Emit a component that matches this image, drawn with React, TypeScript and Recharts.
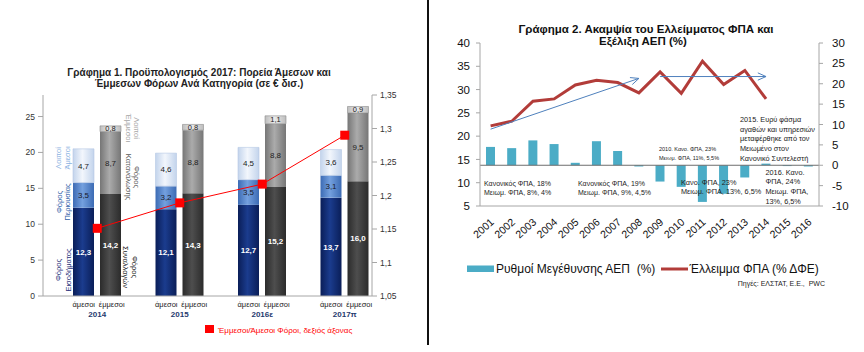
import React from "react";
import { ComposedChart, Bar, Line, XAxis, YAxis, LabelList, ReferenceLine } from "recharts";

const FONT = "'Liberation Sans', Arial, sans-serif";

// Γράφημα 1
const years = ["2014", "2015", "2016ε", "2017π"];
const incomeTax = [12.3, 12.1, 12.7, 13.7];
const propertyTax = [3.5, 3.2, 3.5, 3.1];
const otherDirect = [4.7, 4.6, 4.5, 3.6];
const transactionTax = [14.2, 14.3, 15.2, 16.0];
const consumptionTax = [8.7, 8.8, 8.8, 9.5];
const otherIndirect = [0.8, 0.8, 1.1, 0.9];
const indirectToDirect = [1.151, 1.189, 1.217, 1.29];
const leftTicks = [0, 5, 10, 15, 20, 25];
const ratioTicks = [1.05, 1.1, 1.15, 1.2, 1.25, 1.3, 1.35];

// Γράφημα 2
const gdpYears = ["2001", "2002", "2003", "2004", "2005", "2006", "2007", "2008",
  "2009", "2010", "2011", "2012", "2013", "2014", "2015", "2016"];
const gdpGrowth = [4.5, 4.2, 6.1, 5.2, 0.6, 5.9, 3.5, -0.3, -4.0, -5.3, -9.0, -7.0, -3.0, 0.4, -0.2, -0.3];
const vatGap = [22.2, 23.2, 27.5, 28.0, 31.0, 32.0, 31.5, 29.3, 33.8, 29.2, 36.1, 31.1, 34.1, 28.0, null, null];
const vatTicks = [5, 10, 15, 20, 25, 30, 35, 40];
const gdpTicks = [-10, -5, 0, 5, 10, 15, 20, 25, 30];
const arrowA = [{ x: "2001", y: 21.5 }, { x: "2008", y: 32.4 }];
const arrowB = [{ x: "2009", y: 32.8 }, { x: "2014", y: 32.8 }];

const taxData = years.map((y, i) => ({
  year: y,
  inc: incomeTax[i],
  prop: propertyTax[i],
  othDir: otherDirect[i],
  trans: transactionTax[i],
  cons: consumptionTax[i],
  othInd: otherIndirect[i],
  ratio: indirectToDirect[i],
}));

const vatData = gdpYears.map((y, i) => ({ year: y, gdp: gdpGrowth[i], gap: vatGap[i] }));

const comma = (v: any) => Number(v).toFixed(1).replace(".", ",");
const ratioFmt = (v: number) => String(+v.toFixed(2)).replace(".", ",");

const SquareDot = (p: any) => (
  <rect key={p.index} x={p.cx - 4.5} y={p.cy - 4.5} width={9} height={9} fill="#FF0000" />
);

const TaxTick = (p: any) => (
  <g transform={`translate(${p.x},${p.y})`}>
    <text x={-13.5} y={10.5} textAnchor="middle" fontSize={7.5} fill="#222">άμεσοι</text>
    <text x={14.5} y={10.5} textAnchor="middle" fontSize={7.5} fill="#222">έμμεσοι</text>
    <text x={0} y={20.5} textAnchor="middle" fontSize={8} fontWeight="bold" fill="#1F3A6E">
      {p.payload.value}
    </text>
  </g>
);

const YearTick = (p: any) => (
  <text
    transform={`translate(${p.x + 4},${p.y + 17}) rotate(-42)`}
    textAnchor="end"
    fontSize={10.5}
    fill="#111"
  >
    {p.payload.value}
  </text>
);

const Arrow = (p: any) => {
  const { x1, y1, x2, y2 } = p;
  const a = Math.atan2(y2 - y1, x2 - x1);
  const L = 9;
  const w = 0.42;
  const ax = x2 - L * Math.cos(a - w);
  const ay = y2 - L * Math.sin(a - w);
  const bx = x2 - L * Math.cos(a + w);
  const by = y2 - L * Math.sin(a + w);
  return (
    <g>
      <line x1={x1} y1={y1} x2={x2} y2={y2} stroke="#4F81BD" strokeWidth={1} />
      <polyline points={`${ax},${ay} ${x2},${y2} ${bx},${by}`} fill="none" stroke="#4F81BD" strokeWidth={1} />
    </g>
  );
};

const grad = (id: string, edge: string, mid: string) => (
  <linearGradient id={id} x1="0" y1="0" x2="1" y2="0">
    <stop offset="0%" stopColor={edge} />
    <stop offset="45%" stopColor={mid} />
    <stop offset="100%" stopColor={edge} />
  </linearGradient>
);

const rot = (x: number, y: number, deg: number, s: string, fill: string) => (
  <text transform={`translate(${x},${y}) rotate(${deg})`} textAnchor="middle" fontSize={7.5} fill={fill}>
    {s}
  </text>
);

const note = (x: number, y: number, lines: string[], size: number, step: number) => (
  <text x={x} y={y} fontSize={size} fill="#222">
    {lines.map((l, i) => (
      <tspan key={i} x={x} y={y + i * step}>{l}</tspan>
    ))}
  </text>
);

export default function App() {
  return (
    <div style={{ position: "absolute", left: 0, top: 0, width: 864, height: 352, background: "#fff", fontFamily: FONT }}>
      <div style={{ position: "absolute", left: 0, top: 0 }}>
        <ComposedChart width={420} height={352} data={taxData} margin={{ top: 95, right: 0, bottom: 26, left: 0 }}
          barSize={21} barGap={6}>
          <defs>
            {grad("gNavy", "#0A1E58", "#1B3C8E")}
            {grad("gBlue", "#3C6BB4", "#74A0DE")}
            {grad("gLight", "#C3D4EC", "#F2F6FC")}
            {grad("gDark", "#2B2B2B", "#4E4E4E")}
            {grad("gGrey", "#767676", "#ABABAB")}
            {grad("gPale", "#BDBDBD", "#EAEAEA")}
          </defs>
          <XAxis dataKey="year" tick={<TaxTick />} tickLine={false} tickSize={0} tickMargin={0}
            axisLine={{ stroke: "#A6A6A6" }} height={30} interval={0} padding={{ left: 13, right: -14 }} />
          <YAxis yAxisId="l" domain={[0, 28]} ticks={leftTicks} width={43} tickSize={5} tickMargin={3}
            axisLine={{ stroke: "#A6A6A6" }} tickLine={{ stroke: "#A6A6A6" }}
            tick={{ fontSize: 8.5, fill: "#333" }} />
          <YAxis yAxisId="r" orientation="right" domain={[1.05, 1.35]} ticks={ratioTicks} width={48}
            tickSize={5} tickMargin={3} tickFormatter={ratioFmt}
            axisLine={{ stroke: "#A6A6A6" }} tickLine={{ stroke: "#A6A6A6" }}
            tick={{ fontSize: 8.5, fill: "#333" }} />
          <Bar yAxisId="l" dataKey="inc" stackId="d" fill="url(#gNavy)" isAnimationActive={false}>
            <LabelList dataKey="inc" position="center" formatter={comma} fill="#fff" fontSize={8} fontWeight="bold" />
          </Bar>
          <Bar yAxisId="l" dataKey="prop" stackId="d" fill="url(#gBlue)" isAnimationActive={false}>
            <LabelList dataKey="prop" position="center" formatter={comma} fill="#1a1a2a" fontSize={8} />
          </Bar>
          <Bar yAxisId="l" dataKey="othDir" stackId="d" fill="url(#gLight)" stroke="#B5C8E4" strokeWidth={0.6}
            isAnimationActive={false}>
            <LabelList dataKey="othDir" position="center" formatter={comma} fill="#222" fontSize={8} />
          </Bar>
          <Bar yAxisId="l" dataKey="trans" stackId="i" fill="url(#gDark)" isAnimationActive={false}>
            <LabelList dataKey="trans" position="center" formatter={comma} fill="#fff" fontSize={8} fontWeight="bold" />
          </Bar>
          <Bar yAxisId="l" dataKey="cons" stackId="i" fill="url(#gGrey)" isAnimationActive={false}>
            <LabelList dataKey="cons" position="center" formatter={comma} fill="#222" fontSize={8} />
          </Bar>
          <Bar yAxisId="l" dataKey="othInd" stackId="i" fill="url(#gPale)" stroke="#8C8C8C" strokeWidth={0.6}
            isAnimationActive={false}>
            <LabelList dataKey="othInd" position="center" formatter={comma} fill="#222" fontSize={7.5} />
          </Bar>
          <Line yAxisId="r" dataKey="ratio" stroke="#FF0000" strokeWidth={1} dot={SquareDot}
            isAnimationActive={false} />
        </ComposedChart>
      </div>

      <div style={{ position: "absolute", left: 430, top: 0 }}>
        <ComposedChart width={434} height={352} data={vatData} margin={{ top: 43, right: 0, bottom: 106, left: 0 }}>
          <XAxis dataKey="year" tick={<YearTick />} tickLine={false} tickSize={0} tickMargin={0}
            axisLine={{ stroke: "#A6A6A6" }} height={40} interval={0} />
          <YAxis yAxisId="left" domain={[5, 40]} ticks={vatTicks} width={50} tickSize={4} tickMargin={6}
            axisLine={{ stroke: "#A6A6A6" }} tickLine={{ stroke: "#A6A6A6" }}
            tick={{ fontSize: 11.5, fill: "#111" }} />
          <YAxis yAxisId="right" orientation="right" domain={[-10, 30]} ticks={gdpTicks} width={45}
            tickSize={4} tickMargin={9}
            axisLine={{ stroke: "#A6A6A6" }} tickLine={{ stroke: "#A6A6A6" }}
            tick={{ fontSize: 11.5, fill: "#111", textAnchor: "start" }} />
          <ReferenceLine yAxisId="right" y={0} stroke="#6E6E6E" />
          <Bar yAxisId="right" dataKey="gdp" fill="#4BACC6" barSize={9} isAnimationActive={false} />
          <Line yAxisId="left" dataKey="gap" stroke="#B23C39" strokeWidth={3} dot={false}
            isAnimationActive={false} />
          <ReferenceLine yAxisId="left" segment={arrowA} shape={Arrow} />
          <ReferenceLine yAxisId="left" segment={arrowB} shape={Arrow} />
        </ComposedChart>
      </div>

      <svg width={864} height={352} style={{ position: "absolute", left: 0, top: 0, pointerEvents: "none" }}
        fontFamily={FONT}>
        <line x1={428} y1={0} x2={428} y2={345} stroke="#111" strokeWidth={2} />

        <text x={199} y={76} textAnchor="middle" fontSize={10} fontWeight="bold" fill="#222">
          Γράφημα 1. Προϋπολογισμός 2017: Πορεία Άμεσων και
        </text>
        <text x={199} y={86.5} textAnchor="middle" fontSize={10} fontWeight="bold" fill="#222">
          Έμμεσων Φόρων Ανά Κατηγορία (σε € δισ.)
        </text>

        {rot(61, 270, -90, "Φόρος", "#1F2F7A")}
        {rot(71, 270, -90, "Εισοδήματος", "#1F2F7A")}
        {rot(61.5, 202, -90, "Φόρος", "#2F5DA8")}
        {rot(70, 202, -90, "Περιουσίας", "#2F5DA8")}
        {rot(60.5, 158, -90, "Λοιποί", "#8DB3E2")}
        {rot(70, 158, -90, "Άμεσοι", "#8DB3E2")}
        {rot(132, 267, 90, "Φόρος", "#1A1A1A")}
        {rot(123, 267, 90, "Συναλλαγών", "#1A1A1A")}
        {rot(134, 177, 90, "Φόρος", "#595959")}
        {rot(125.5, 177, 90, "Κατανάλωσης", "#595959")}
        {rot(134, 128, 90, "Λοιποί", "#A6A6A6")}
        {rot(125.5, 128, 90, "Έμμεσοι", "#A6A6A6")}

        <rect x={205} y={325} width={9} height={8} fill="#FF0000" />
        <text x={218} y={332.5} fontSize={8} fill="#FF0000">Έμμεσοι/Άμεσοι Φόροι, δεξιός άξονας</text>

        <text x={646} y={33} textAnchor="middle" fontSize={11.5} fontWeight="bold" fill="#111">
          Γράφημα 2. Ακαμψία του Ελλείμματος ΦΠΑ και
        </text>
        <text x={643} y={44.5} textAnchor="middle" fontSize={11.5} fontWeight="bold" fill="#111">
          Εξέλιξη ΑΕΠ (%)
        </text>

        {note(484, 186, ["Κανονικός ΦΠΑ, 18%", "Μειωμ. ΦΠΑ, 8%, 4%"], 7, 9.3)}
        {note(578, 186, ["Κανονικός ΦΠΑ, 19%", "Μειωμ. ΦΠΑ, 9%, 4,5%"], 7, 9.3)}
        {note(659, 150.5, ["2010. Κανο. ΦΠΑ, 23%", "Μειωμ. ΦΠΑ, 11%, 5,5%"], 5.5, 9)}
        {note(681, 184.5, ["Κανο. ΦΠΑ, 23%", "Μειωμ. ΦΠΑ, 13%, 6,5%"], 7.3, 9.2)}
        {note(740, 122, ["2015. Ευρύ φάσμα", "αγαθών και υπηρεσιών", "μεταφέρθηκε από τον", "Μειωμένο στον",
          "Κανονικό Συντελεστή"], 7.3, 9.7)}
        {note(765.5, 174.5, ["2016. Κανο.", "ΦΠΑ, 24%", "Μειωμ. ΦΠΑ,", "13%, 6,5%"], 7.3, 9.7)}

        <rect x={467} y={265.5} width={27} height={6.5} fill="#4BACC6" />
        <text x={496} y={272.5} fontSize={12} fill="#111">{"Ρυθμοί Μεγέθυνσης ΑΕΠ\u00A0\u00A0(%)"}</text>
        <line x1={661} y1={269} x2={688} y2={269} stroke="#B23C39" strokeWidth={3} />
        <text x={689.5} y={272.5} fontSize={12} fill="#111">Έλλειμμα ΦΠΑ (% ΔΦΕ)</text>
        <text x={825} y={286} textAnchor="end" fontSize={7} fill="#222">{"Πηγές: ΕΛΣΤΑΤ, Ε.Ε.,\u00A0 PWC"}</text>
      </svg>
    </div>
  );
}
